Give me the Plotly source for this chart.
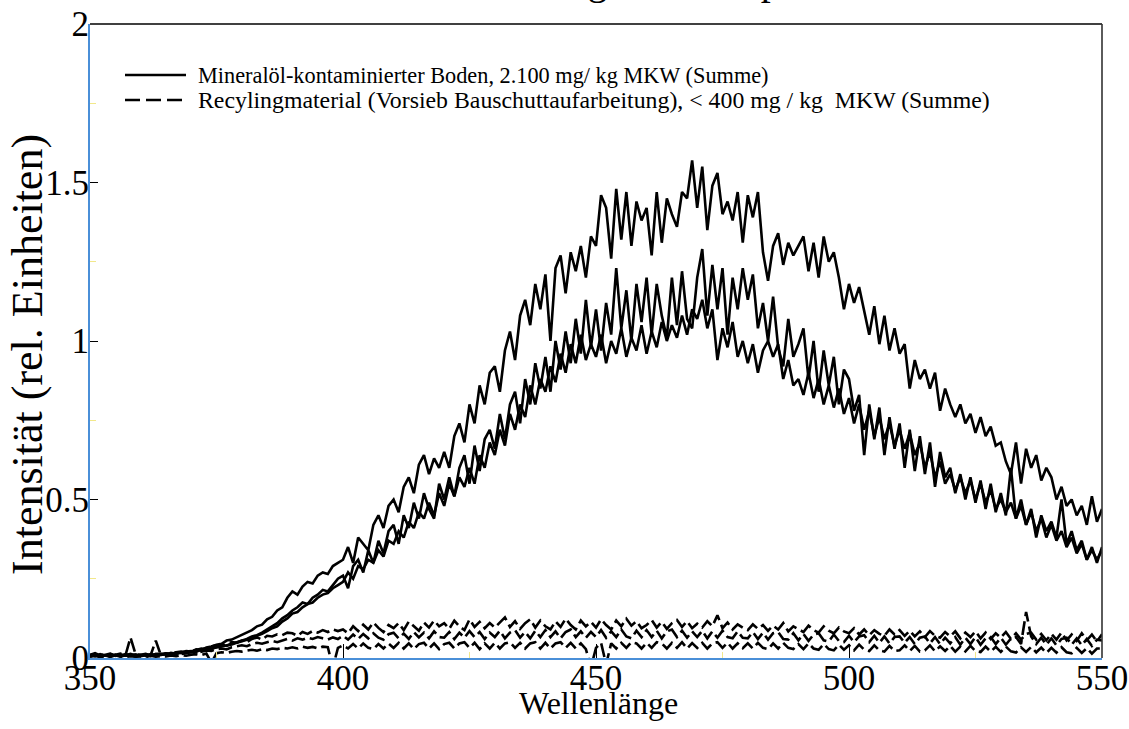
import plotly.graph_objects as go

# Wavelength grid (nm), 1 nm sampling
wavelength = list(range(350, 551))

# Mineralöl-kontaminierter Boden – three measurements
boden_1 = [
    0.01, 0.005, 0.012, 0.008, 0.004, 0.01, 0.006, 0.012, 0.009, 0.005,
    0.008, 0.011, 0.006, 0.013, 0.01, 0.015, 0.012, 0.018, 0.016, 0.022,
    0.02, 0.027, 0.025, 0.033, 0.036, 0.042, 0.045, 0.055, 0.058, 0.065,
    0.072, 0.08, 0.088, 0.1, 0.105, 0.122, 0.13, 0.15, 0.16, 0.19,
    0.21, 0.2, 0.225, 0.24, 0.235, 0.26, 0.27, 0.265, 0.29, 0.3,
    0.31, 0.35, 0.3, 0.38, 0.36, 0.34, 0.42, 0.45, 0.41, 0.48,
    0.5, 0.46, 0.54, 0.57, 0.52, 0.61, 0.64, 0.58, 0.63, 0.6,
    0.65, 0.6, 0.7, 0.74, 0.68, 0.8, 0.74, 0.86, 0.8, 0.9,
    0.92, 0.84, 0.97, 1.03, 0.94, 1.08, 1.13, 1.05, 1.18, 1.1,
    1.21, 1.0, 1.23, 1.27, 1.15, 1.28, 1.22, 1.3, 1.2, 1.33,
    1.3, 1.46, 1.42, 1.26, 1.48, 1.32, 1.47, 1.3, 1.44, 1.38,
    1.42, 1.27, 1.47, 1.31, 1.45, 1.4, 1.36, 1.47, 1.45, 1.57,
    1.42, 1.55, 1.35, 1.49, 1.53, 1.4, 1.44, 1.38, 1.47, 1.31,
    1.46, 1.39, 1.47, 1.28, 1.19, 1.3, 1.34, 1.24, 1.31, 1.27,
    1.3, 1.33, 1.22, 1.31, 1.2, 1.33, 1.25, 1.28, 1.2, 1.1,
    1.18, 1.12, 1.17, 1.1, 1.02, 1.11, 0.99, 1.08, 0.97, 1.04,
    0.96, 0.99, 0.85, 0.94, 0.88, 0.91, 0.85, 0.9, 0.78, 0.85,
    0.8, 0.76, 0.8, 0.74, 0.77, 0.71, 0.76, 0.7, 0.73, 0.67,
    0.68, 0.62, 0.58, 0.68, 0.55, 0.66, 0.6, 0.64, 0.56, 0.6,
    0.57, 0.5, 0.54, 0.48, 0.5, 0.45, 0.48, 0.42, 0.51, 0.43,
    0.47,
]
boden_2 = [
    0.008, 0.012, 0.006, 0.01, 0.014, 0.007, 0.011, 0.009, 0.013, 0.008,
    0.01, 0.007, 0.012, 0.009, 0.014, 0.011, 0.016, 0.013, 0.018, 0.02,
    0.022, 0.019, 0.027, 0.03, 0.028, 0.035, 0.04, 0.038, 0.046, 0.05,
    0.055, 0.06, 0.068, 0.072, 0.08, 0.09, 0.1, 0.11, 0.125, 0.135,
    0.15, 0.16, 0.175, 0.17, 0.19, 0.2, 0.215, 0.21, 0.23, 0.25,
    0.26, 0.22, 0.29, 0.31, 0.27, 0.34, 0.3, 0.37, 0.33, 0.4,
    0.42, 0.36, 0.45, 0.41, 0.49, 0.44, 0.52, 0.47, 0.44, 0.55,
    0.5, 0.57, 0.51, 0.6, 0.64, 0.55, 0.67, 0.59, 0.69, 0.72,
    0.66, 0.77, 0.69, 0.8, 0.84, 0.74, 0.88, 0.8, 0.93, 0.85,
    0.95, 0.84, 1.0, 0.91, 1.03, 0.93, 1.07, 0.96, 1.13, 0.98,
    1.1, 0.97, 1.12, 1.02, 1.23, 1.04, 1.16, 1.0, 1.18, 1.06,
    1.2, 1.02, 1.18, 1.08, 1.01, 1.2, 1.05, 1.22, 1.07, 1.04,
    1.2, 1.29, 1.08, 1.24, 1.1, 1.23, 1.02, 1.2, 1.1, 1.23,
    1.13, 1.21, 1.04, 1.12, 1.0, 1.14, 0.98, 0.92, 1.07, 0.95,
    0.99, 1.04, 0.88, 1.0, 0.84, 0.97, 0.86, 0.95, 0.8, 0.91,
    0.88, 0.78, 0.83, 0.64, 0.8, 0.69, 0.79, 0.64, 0.76, 0.66,
    0.74, 0.6, 0.72, 0.59, 0.7, 0.58, 0.68, 0.54, 0.65, 0.57,
    0.6, 0.52, 0.58, 0.5, 0.57, 0.49, 0.56, 0.47, 0.55, 0.46,
    0.52, 0.45, 0.6, 0.44, 0.5, 0.42, 0.47, 0.38, 0.45, 0.4,
    0.43, 0.38, 0.5, 0.36, 0.4, 0.34, 0.37, 0.31, 0.35, 0.3,
    0.35,
]
boden_3 = [
    0.005, 0.009, 0.004, 0.008, 0.006, 0.01, 0.005, 0.008, 0.007, 0.011,
    0.006, 0.009, 0.008, 0.012, 0.01, 0.013, 0.011, 0.015, 0.017, 0.016,
    0.02, 0.022, 0.025, 0.024, 0.03, 0.033, 0.036, 0.04, 0.043, 0.048,
    0.052, 0.058, 0.062, 0.07, 0.076, 0.085, 0.094, 0.1, 0.115, 0.125,
    0.14, 0.145, 0.16, 0.17, 0.175, 0.19, 0.2, 0.205, 0.22, 0.23,
    0.24, 0.27, 0.25, 0.29, 0.28, 0.31, 0.3, 0.34, 0.32, 0.37,
    0.36, 0.4, 0.38, 0.43, 0.41, 0.46, 0.44, 0.49, 0.45, 0.52,
    0.48, 0.55, 0.51, 0.57, 0.54, 0.6, 0.55, 0.64, 0.6, 0.68,
    0.64, 0.72, 0.67, 0.77, 0.72, 0.8, 0.76, 0.86, 0.8, 0.88,
    0.84, 0.92, 0.87, 0.96, 0.9, 0.99, 0.93, 1.02, 0.94, 0.99,
    0.95, 1.02, 0.93, 1.0, 0.96, 1.04, 0.95, 1.01, 0.97, 1.05,
    0.96, 1.03, 0.98, 1.06, 1.0, 1.05, 1.01, 1.08, 1.02, 1.1,
    1.07, 1.13, 1.04, 1.1, 0.94, 1.04, 0.98, 1.06, 0.95, 1.0,
    0.93, 0.99, 0.9, 0.97, 1.0, 0.95, 0.99, 0.88, 0.94, 0.86,
    0.88, 0.83, 0.9, 0.82, 0.88, 0.8, 0.86, 0.79, 0.85, 0.77,
    0.82, 0.74, 0.8, 0.72, 0.78, 0.7, 0.76, 0.69, 0.74, 0.67,
    0.72, 0.66, 0.71, 0.64, 0.68, 0.6, 0.65, 0.57, 0.62, 0.55,
    0.58, 0.53, 0.57, 0.52, 0.56, 0.5, 0.55, 0.49, 0.53, 0.47,
    0.5, 0.46, 0.49, 0.44, 0.48, 0.42, 0.46, 0.4, 0.44, 0.38,
    0.42, 0.37, 0.4, 0.35, 0.38, 0.33, 0.36, 0.31, 0.34, 0.31,
    0.34,
]

# Recyclingmaterial – three measurements
recycling_1 = [
    0.01, 0.015, 0.008, 0.012, 0.006, 0.01, 0.014, 0.008, 0.065, 0.012,
    0.01, 0.013, 0.009, 0.014, 0.011, 0.015, 0.012, 0.018, 0.02, 0.017,
    0.022, 0.025, 0.03, 0.028, 0.036, 0.04, 0.038, 0.045, 0.05, 0.048,
    0.055, 0.05, 0.06, 0.065, 0.058, 0.07, 0.068, 0.075, 0.072, 0.08,
    0.078, 0.07, 0.082, 0.076, 0.085, 0.08, 0.088, 0.082, 0.09, 0.085,
    0.09, 0.078, 0.1, 0.085, 0.105, 0.09, 0.112, 0.095, 0.082, 0.104,
    0.094, 0.11, 0.088, 0.115, 0.1, 0.086, 0.112, 0.096, 0.118, 0.1,
    0.11, 0.092, 0.118, 0.1, 0.088, 0.122, 0.098, 0.114, 0.094, 0.11,
    0.096, 0.112, 0.128, 0.098, 0.116, 0.092, 0.11, 0.122, 0.096, 0.118,
    0.1, 0.09, 0.116, 0.098, 0.124, 0.104, 0.09, 0.118, 0.1, 0.114,
    0.096, 0.122, 0.104, 0.09, 0.118, 0.1, 0.124, 0.102, 0.116, 0.094,
    0.104, 0.12, 0.096, 0.114, 0.092, 0.11, 0.12, 0.098, 0.116, 0.094,
    0.108, 0.096, 0.116, 0.1, 0.135, 0.094, 0.112, 0.09, 0.106, 0.096,
    0.088, 0.106, 0.092, 0.104, 0.086, 0.102, 0.09, 0.11, 0.084, 0.1,
    0.09, 0.082, 0.102, 0.088, 0.08, 0.1, 0.086, 0.078, 0.096, 0.084,
    0.078, 0.094, 0.074, 0.09, 0.072, 0.088, 0.076, 0.07, 0.09, 0.074,
    0.088, 0.07, 0.086, 0.068, 0.084, 0.066, 0.085, 0.07, 0.064, 0.082,
    0.068, 0.084, 0.062, 0.08, 0.066, 0.084, 0.062, 0.08, 0.06, 0.078,
    0.064, 0.082, 0.06, 0.078, 0.058, 0.076, 0.08, 0.058, 0.076, 0.056,
    0.076, 0.058, 0.08, 0.056, 0.074, 0.054, 0.078, 0.056, 0.074, 0.052,
    0.075,
]
recycling_2 = [
    0.006, 0.01, 0.005, 0.009, 0.012, 0.007, 0.01, 0.006, 0.009, 0.011,
    0.008, 0.006, 0.01, 0.055, 0.009, 0.012, 0.01, 0.014, 0.012, 0.016,
    0.018, 0.015, 0.02, 0.024, 0.022, 0.028, 0.03, 0.027, 0.034, 0.036,
    0.04, 0.037, 0.044, 0.048, 0.045, 0.05, 0.054, 0.05, 0.056, 0.06,
    0.055, 0.062, 0.058, 0.064, 0.06, 0.066, 0.062, 0.058, 0.065, 0.06,
    0.07, 0.058, 0.074, 0.06, 0.076, 0.062, 0.078, 0.064, 0.058, 0.075,
    0.08, 0.062, 0.077, 0.06, 0.082, 0.065, 0.08, 0.062, 0.084, 0.066,
    0.064, 0.082, 0.06, 0.08, 0.064, 0.085, 0.066, 0.082, 0.06, 0.08,
    0.066, 0.086, 0.062, 0.08, 0.088, 0.064, 0.082, 0.062, 0.086, 0.066,
    0.088, 0.066, 0.084, 0.062, 0.082, 0.09, 0.066, 0.084, 0.064, 0.082,
    0.066, 0.088, 0.064, 0.084, 0.066, 0.09, 0.068, 0.062, 0.086, 0.066,
    0.088, 0.066, 0.086, 0.062, 0.084, 0.09, 0.066, 0.086, 0.064, 0.084,
    0.066, 0.086, 0.062, 0.084, 0.064, 0.086, 0.066, 0.062, 0.084, 0.064,
    0.062, 0.082, 0.06, 0.08, 0.058, 0.078, 0.082, 0.06, 0.058, 0.078,
    0.056, 0.076, 0.054, 0.074, 0.078, 0.056, 0.052, 0.074, 0.054, 0.05,
    0.07, 0.05, 0.068, 0.072, 0.05, 0.07, 0.048, 0.068, 0.046, 0.066,
    0.068, 0.048, 0.066, 0.044, 0.064, 0.068, 0.046, 0.066, 0.044, 0.064,
    0.046, 0.066, 0.042, 0.064, 0.044, 0.066, 0.042, 0.062, 0.066, 0.044,
    0.064, 0.042, 0.062, 0.066, 0.044, 0.145, 0.068, 0.044, 0.064, 0.042,
    0.062, 0.04, 0.06, 0.064, 0.042, 0.062, 0.04, 0.06, 0.038, 0.058,
    0.055,
]
recycling_3 = [
    0.004, 0.007, 0.003, 0.006, 0.004, 0.008, 0.005, 0.003, 0.006, 0.004,
    0.005, 0.003, 0.007, 0.004, 0.006, 0.005, 0.008, 0.006, 0.009, 0.007,
    0.01, 0.012, 0.009, 0.014, -0.015, 0.015, 0.018, 0.016, 0.02, 0.022,
    0.02, 0.024, 0.026, 0.023, 0.028, 0.025, 0.03, 0.028, 0.032, 0.03,
    0.034, 0.03, 0.036, 0.032, 0.035, 0.03, 0.036, 0.034, -0.03, 0.032,
    0.04, 0.03, 0.044, 0.03, 0.046, 0.032, 0.028, 0.044, 0.03, 0.046,
    0.032, 0.048, 0.03, 0.046, 0.028, 0.044, 0.048, 0.03, 0.046, 0.028,
    0.044, 0.048, 0.03, 0.046, 0.05, 0.032, 0.048, 0.028, 0.046, 0.03,
    0.048, 0.03, 0.046, 0.05, 0.032, 0.048, 0.03, 0.046, 0.05, 0.03,
    0.048, 0.03, 0.046, 0.05, 0.032, 0.048, 0.03, 0.046, 0.028, -0.03,
    0.032, 0.048, -0.02, 0.046, 0.03, 0.048, 0.032, 0.05, 0.046, 0.03,
    0.048, 0.032, 0.05, 0.046, 0.03, 0.048, 0.032, 0.05, 0.03, 0.047,
    0.032, 0.048, 0.03, 0.046, 0.05, 0.032, 0.048, 0.03, 0.046, 0.031,
    0.046, 0.03, 0.048, 0.032, 0.028, 0.046, 0.03, 0.048, 0.032, 0.028,
    0.044, 0.028, 0.046, 0.03, 0.026, 0.044, 0.028, 0.024, 0.042, 0.026,
    0.04, 0.024, 0.042, 0.026, 0.022, 0.04, 0.024, 0.02, 0.038, 0.022,
    0.024, 0.04, 0.022, 0.038, 0.02, 0.024, 0.04, 0.021, 0.037, 0.022,
    0.038, 0.02, 0.036, 0.021, 0.038, 0.022, 0.019, 0.036, 0.02, 0.035,
    0.019, 0.036, 0.021, 0.017, 0.034, 0.019, 0.035, 0.018, 0.033, 0.016,
    0.032, 0.017, 0.034, 0.018, 0.015, 0.032, 0.016, 0.031, 0.014, 0.03,
    0.03,
]

legend_labels = [
    "Mineralöl-kontaminierter Boden, 2.100 mg/ kg MKW (Summe)",
    "Recylingmaterial (Vorsieb Bauschuttaufarbeitung), &lt; 400 mg / kg&#160; MKW (Summe)",
]
title_text = "Untersuchung von Realproben"
x_title = "Wellenlänge"
y_title = "Intensität (rel. Einheiten)"

SERIF = "Liberation Serif"
DASH = "14px,5px"
AXIS_BLUE = "#4a8fd8"
MINOR_YELLOW = "#f2e88a"

fig = go.Figure()
for ys in (boden_1, boden_2, boden_3):
    fig.add_trace(go.Scatter(x=wavelength, y=ys, mode="lines",
                             line=dict(color="black", width=2.6),
                             showlegend=False, hoverinfo="skip"))
for ys in (recycling_1, recycling_2, recycling_3):
    fig.add_trace(go.Scatter(x=wavelength, y=ys, mode="lines",
                             line=dict(color="black", width=2.6, dash=DASH),
                             showlegend=False, hoverinfo="skip"))

# Plot area: left 90px, right 1102px, top 24px, bottom 658px
L, R, T, B = 90, 1102, 24, 658
W, H = R - L, B - T


def px(xp):
    return (xp - L) / W


def py(yp):
    return (B - yp) / H


shapes = [
    # top and right frame lines
    dict(type="line", xref="paper", yref="paper", x0=0, x1=1, y0=1, y1=1,
         line=dict(color="black", width=1.6)),
    dict(type="line", xref="paper", yref="paper", x0=1, x1=1, y0=0, y1=1,
         line=dict(color="#333333", width=1.6)),
    # legend samples
    dict(type="line", xref="paper", yref="paper", x0=px(125), x1=px(186),
         y0=py(75), y1=py(75), line=dict(color="black", width=2.6)),
    dict(type="line", xref="paper", yref="paper", x0=px(125), x1=px(186),
         y0=py(100), y1=py(100), line=dict(color="black", width=2.6, dash="15px,6px")),
]


def label(text, xp, yp, size, xanchor="left", angle=0):
    return dict(text=text, xref="paper", yref="paper", x=px(xp), y=py(yp),
                xanchor=xanchor, yanchor="middle", showarrow=False, textangle=angle,
                font=dict(family=SERIF, size=size, color="black"))


annotations = [
    label(legend_labels[0], 196, 75, 22.3),
    label(legend_labels[1], 196, 100, 23.8),
    label(x_title, 598, 703, 32, xanchor="center"),
    label(y_title, 27, 355, 44, xanchor="center", angle=-90),
    dict(text=title_text, xref="paper", yref="paper", x=px(627), y=py(5),
         xanchor="center", yanchor="bottom", showarrow=False,
         font=dict(family=SERIF, size=40, color="black")),
]

fig.update_layout(
    width=1129, height=729,
    margin=dict(l=L, r=1129 - R, t=T, b=729 - B, pad=0),
    paper_bgcolor="white", plot_bgcolor="white",
    showlegend=False,
    shapes=shapes, annotations=annotations,
    font=dict(family=SERIF, color="black"),
)

fig.update_xaxes(
    range=[350, 550], tick0=350, dtick=50,
    showgrid=False, zeroline=False,
    showline=True, linecolor=AXIS_BLUE, linewidth=2.2,
    ticks="inside", ticklen=14, tickwidth=1, tickcolor="black",
    minor=dict(ticks="inside", dtick=25, ticklen=6, tickcolor=MINOR_YELLOW, showgrid=False),
    tickfont=dict(family=SERIF, size=35, color="black"),
    ticklabelstandoff=-12,
    automargin=False,
)
fig.update_yaxes(
    range=[0, 2], tick0=0, dtick=0.5,
    showgrid=False, zeroline=False,
    showline=True, linecolor=AXIS_BLUE, linewidth=2.2,
    ticks="inside", ticklen=8, tickwidth=1, tickcolor="black",
    minor=dict(ticks="inside", dtick=0.25, ticklen=6, tickcolor=MINOR_YELLOW, showgrid=False),
    tickfont=dict(family=SERIF, size=35, color="black"),
    ticklabelstandoff=-8,
    automargin=False,
)

fig.write_html("out.html")
